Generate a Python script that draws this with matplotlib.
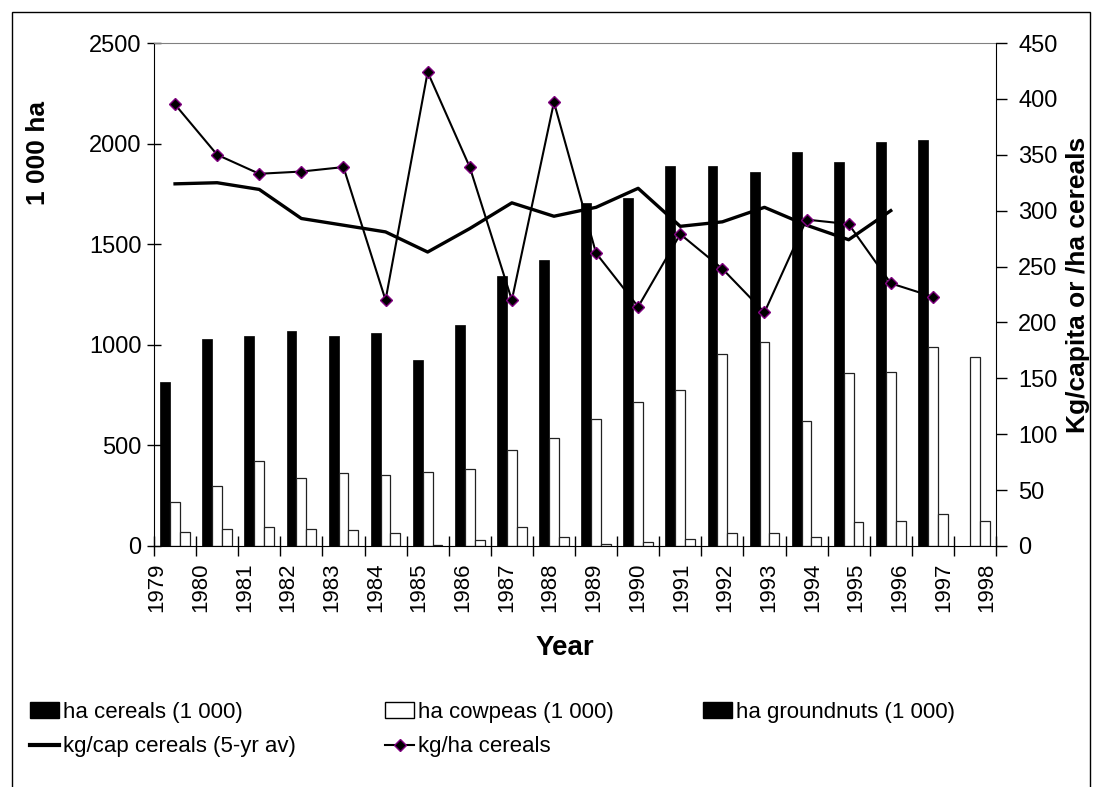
import matplotlib
matplotlib.use("Agg")
import matplotlib.pyplot as plt
from matplotlib.patches import Patch, Rectangle
from matplotlib.lines import Line2D
import numpy as np

plt.rcParams['font.family'] = ['Liberation Sans', 'DejaVu Sans']

years = ['1979', '1980', '1981', '1982', '1983', '1984', '1985', '1986', '1987', '1988',
         '1989', '1990', '1991', '1992', '1993', '1994', '1995', '1996', '1997', '1998']

# left axis, 1 000 ha
ha_cereals = [815, 1030, 1045, 1068, 1042, 1061, 925, 1099, 1343, 1420,
              1704, 1728, 1890, 1890, 1861, 1958, 1910, 2007, 2019, np.nan]
ha_cowpeas = [217, 300, 423, 338, 361, 355, 370, 381, 476, 537,
              633, 714, 773, 955, 1014, 623, 859, 864, 991, 937]
ha_groundnuts = [71, 85, 96, 85, 78, 66, 5, 28, 93, 43,
                 12, 18, 36, 66, 63, 46, 121, 122, 157, 124]

# right axis, kg
kgcap_5yr = [324, 325, 319, 293, 287, 281, 263, 284, 307, 295,
             303, 320, 286, 290, 303, 287, 274, 300, np.nan, np.nan]
kgha_cereals = [395, 350, 333, 335, 339, 220, 424, 339, 220, 397,
                262, 214, 279, 248, 209, 292, 288, 235, 223, np.nan]

W, H = 1093, 787
fig = plt.figure(figsize=(W / 100, H / 100), dpi=100)
ax = fig.add_axes([154 / W, 1 - 546 / H, (996 - 154) / W, (546 - 43) / H])
ax2 = ax.twinx()

x = np.arange(len(years)) + 0.5
w = 0.235
ax.bar(x - w, ha_cereals, w, color='black', edgecolor='black', linewidth=0.5)
ax.bar(x, ha_cowpeas, w, color='white', edgecolor='#222222', linewidth=0.9)
ax.bar(x + w, ha_groundnuts, w, color='white', edgecolor='#222222', linewidth=0.9)

ax2.plot(x, kgcap_5yr, color='black', lw=2.4)
ax2.plot(x, kgha_cereals, color='black', lw=1.5, marker='D', markersize=6,
         markerfacecolor='black', markeredgecolor='#800080', markeredgewidth=1)

ax.set_xlim(0, len(years))
ax.set_ylim(0, 2500)
ax2.set_ylim(0, 450)

ax.set_yticks(range(0, 2501, 500))
ax2.set_yticks(range(0, 451, 50))
ax.tick_params(axis='y', direction='inout', length=10, width=1, labelsize=17, pad=4)
ax2.tick_params(axis='y', direction='out', length=8, width=1, labelsize=17, pad=8)

ax.set_xticks(np.arange(len(years) + 1))
ax.set_xticklabels([])
ax.tick_params(axis='x', which='major', direction='inout', length=14, width=1)
ax.set_xticks(np.arange(len(years)) * 1.038 + 0.07, minor=True)
ax.set_xticklabels(years, minor=True, rotation=90, fontsize=16)
ax.tick_params(axis='x', which='minor', length=0, pad=12)

for s in ['left', 'bottom']:
    ax.spines[s].set_color('black')
ax.spines['right'].set_visible(False)
ax.spines['top'].set_color('#808080')
for s in ['top', 'left', 'bottom']:
    ax2.spines[s].set_visible(False)
ax2.spines['right'].set_color('black')

fig.text(38 / W, 1 - 153 / H, '1 000 ha', rotation=90, fontsize=19,
         fontweight='bold', ha='center', va='center')
fig.text(1078 / W, 1 - 285 / H, 'Kg/capita or /ha cereals', rotation=90, fontsize=19,
         fontweight='bold', ha='center', va='center')
fig.text(565 / W, 1 - 648 / H, 'Year', fontsize=20, fontweight='bold',
         ha='center', va='center')

handles = [Patch(facecolor='black', edgecolor='black'),
           Line2D([], [], color='black', lw=3),
           Patch(facecolor='white', edgecolor='black'),
           Line2D([], [], color='black', lw=1.5, marker='D', markersize=6,
                  markerfacecolor='black', markeredgecolor='#800080'),
           Patch(facecolor='black', edgecolor='black')]
labels = ['ha cereals (1 000)', 'kg/cap cereals (5-yr av)', 'ha cowpeas (1 000)',
          'kg/ha cereals', 'ha groundnuts (1 000)']
fig.legend(handles, labels, ncol=3, loc='upper left', bbox_to_anchor=(10 / W, 1 - 682 / H),
           frameon=False, fontsize=16, handlelength=1.3, handletextpad=0.2,
           columnspacing=4.0, labelspacing=0.6)

fig.patches.append(Rectangle((12 / W, -0.01), (1090 - 12) / W, 1 - 12 / H + 0.01,
                             transform=fig.transFigure, fill=False, ec='black', lw=1))

fig.savefig('out.png', dpi=100)
